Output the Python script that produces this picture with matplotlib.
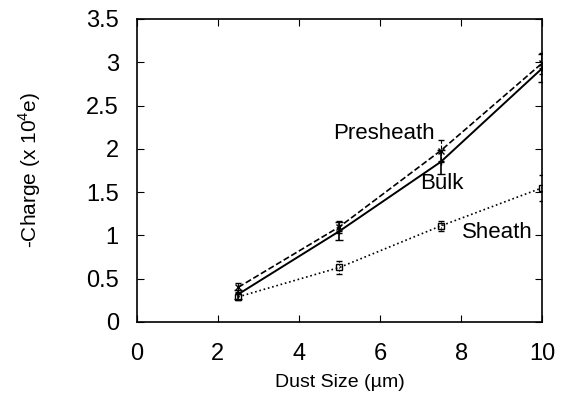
import numpy as np
import matplotlib.pyplot as plt

plt.rcParams['font.family'] = ['Liberation Sans', 'DejaVu Sans']
plt.rcParams['mathtext.fontset'] = 'custom'
plt.rcParams['mathtext.rm'] = 'Liberation Sans'

size = [2.5, 5.0, 7.5, 10.0]

bulk = [0.32, 1.05, 1.85, 2.93]
bulk_err = [0.05, 0.10, 0.14, 0.16]
presheath = [0.40, 1.10, 1.98, 2.99]
presheath_err = [0.05, 0.07, 0.12, 0.12]
sheath = [0.29, 0.63, 1.11, 1.55]
sheath_err = [0.04, 0.07, 0.06, 0.15]

fig = plt.figure(figsize=(5.63, 4.04), dpi=100)
ax = fig.add_axes([0.243, 0.203, 0.72, 0.75])

ax.errorbar(size, bulk, yerr=bulk_err, color='black', lw=1.4, marker='+',
            ms=5, capsize=3, elinewidth=1.2)
ax.errorbar(size, presheath, yerr=presheath_err, color='black', lw=1.2, ls='--',
            marker='x', ms=4, capsize=2, elinewidth=0.8)
ax.errorbar(size, sheath, yerr=sheath_err, color='black', lw=1.2, ls=':',
            marker='s', ms=4, mfc='none', capsize=2, elinewidth=0.8)
# error bars follow the line style of their curve
ax.containers[-1].lines[2][0].set_linestyle(':')
ax.containers[-2].lines[2][0].set_linestyle('--')

ax.text(4.84, 2.18, 'Presheath', fontsize=16, va='center')
ax.text(6.99, 1.60, 'Bulk', fontsize=16, va='center')
ax.text(8.02, 1.03, 'Sheath', fontsize=16, va='center')

ax.set_xlim(0, 10)
ax.set_ylim(0, 3.5)
ax.set_xticks([0, 2, 4, 6, 8, 10])
ax.set_yticks(np.arange(0, 3.51, 0.5))
ax.set_yticklabels(['0', '0.5', '1', '1.5', '2', '2.5', '3', '3.5'])
ax.tick_params(direction='in', top=True, right=True, labelsize=17, length=5)
ax.tick_params(axis='x', pad=15)
ax.tick_params(axis='y', pad=13)
for s in ax.spines.values():
    s.set_linewidth(1.2)

ax.set_xlabel('Dust Size (\u00b5m)', fontsize=14)
ax.set_ylabel('-Charge (x 10$^4$e)', fontsize=15)
ax.xaxis.set_label_coords(0.5, -0.201)
ax.yaxis.set_label_coords(-0.264, 0.5)
ax.xaxis.label.set_va('center')
ax.yaxis.label.set_va('center')

fig.savefig('out.png', dpi=100)
